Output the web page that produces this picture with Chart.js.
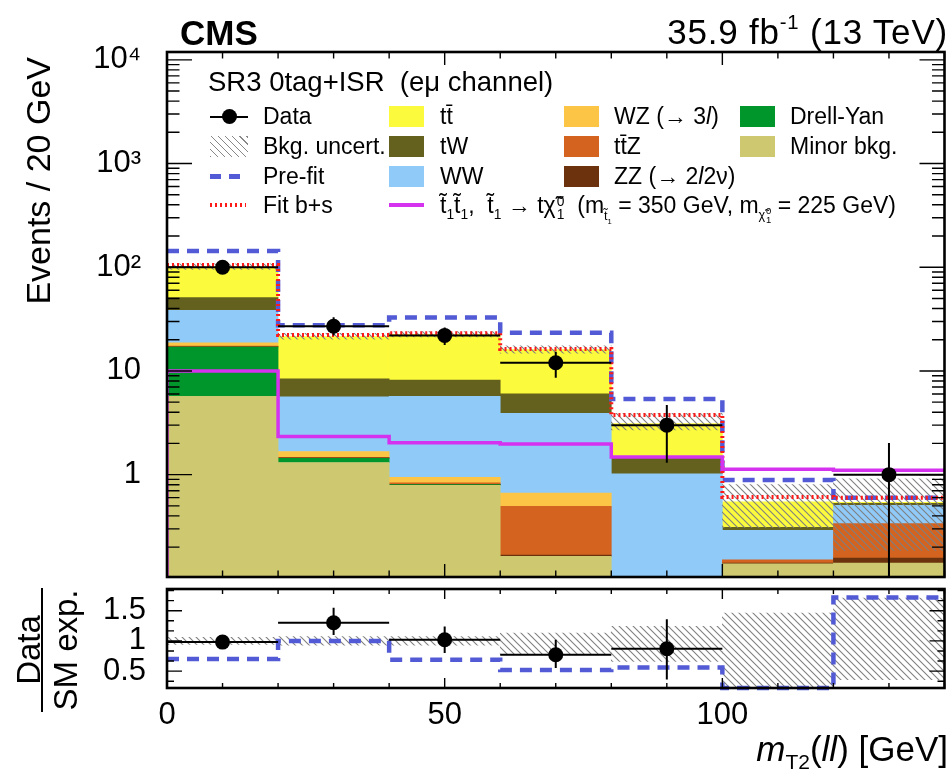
<!DOCTYPE html>
<html>
<head>
<meta charset="utf-8">
<title>mT2(ll) SR3 0tag+ISR</title>
<script src="https://cdn.jsdelivr.net/npm/chart.js@4.4.1/dist/chart.umd.min.js"></script>
<style>
html, body { margin: 0; padding: 0; background: #fff; }
#wrap { position: relative; width: 952px; height: 771px; overflow: hidden;
        font-family: "Liberation Sans", Arial, Helvetica, sans-serif; color: #000; }
#wrap canvas { position: absolute; left: 0; top: 0; }
.t { position: absolute; white-space: pre; line-height: 1; }
.lg { font-size: 23px; }
.sw { position: absolute; }
sub, sup { font-size: 0.6em; line-height: 0; }
.ss { display: inline-block; vertical-align: -0.45em; font-size: 0.6em; line-height: 0.95; margin-left: 0.08em; }
.ss span { display: block; }
.ms { display: inline-block; vertical-align: -0.55em; font-size: 0.55em; line-height: 1; }
.ms .ss { font-size: 0.75em; vertical-align: -0.4em; }
.hatch { background: repeating-linear-gradient(45deg, #888 0 1.1px, transparent 1.1px 5px); }
</style>
</head>
<body>
<div id="wrap">
  <canvas id="mainChart" width="952" height="771"></canvas>
  <canvas id="ratioChart" width="952" height="771"></canvas>

  <div class="t" style="left:180px; top:14.5px; font-size:35px; font-weight:bold;">CMS</div>
  <div class="t" style="right:4px; top:14px; font-size:35px; letter-spacing:0.8px;">35.9 fb<sup style="font-size:0.58em; position:relative; top:-0.1em;">-1</sup> (13 TeV)</div>

  <div class="t" style="left:21px; top:317px; width:260px; text-align:right; font-size:34px; transform-origin:0 0; transform:rotate(-90deg);">Events / 20 GeV</div>
  <div class="t" style="left:12px; top:720px; width:140px; text-align:center; font-size:33px; transform-origin:0 0; transform:rotate(-90deg);">Data</div>
  <div class="sw" style="left:41px; top:588px; width:2px; height:124px; background:#000;"></div>
  <div class="t" style="left:49px; top:720px; width:140px; text-align:center; font-size:33px; transform-origin:0 0; transform:rotate(-90deg);">SM exp.</div>
  <div class="t" style="right:4px; top:730.5px; font-size:35px;"><i>m</i><sub style="font-size:0.6em;">T2</sub>(<i>ll</i>) [GeV]</div>

  <div class="t" style="left:208px; top:68px; font-size:27.5px;">SR3 0tag+ISR  (eμ channel)</div>

  <!-- legend symbols -->
  <div class="sw" style="left:210px; top:115.7px; width:38px; height:2px; background:#000;"></div>
  <div class="sw" style="left:221.5px; top:109.2px; width:15px; height:15px; border-radius:50%; background:#000;"></div>
  <div class="sw hatch" style="left:210px; top:136px; width:38px; height:21px;"></div>
  <div class="sw" style="left:210px; top:174px; width:36px; height:4.5px; background:repeating-linear-gradient(90deg, #525bd5 0 11px, transparent 11px 19px);"></div>
  <div class="sw" style="left:210px; top:203px; width:36px; height:4px; background:repeating-linear-gradient(90deg, #ff1a1a 0 2px, transparent 2px 5px);"></div>

  <div class="sw" style="left:389px; top:106.2px; width:35px; height:21px; background:#fcfa3c;"></div>
  <div class="sw" style="left:389px; top:136.2px; width:35px; height:21px; background:#64611e;"></div>
  <div class="sw" style="left:389px; top:165.5px; width:35px; height:21px; background:#8fcaf9;"></div>
  <div class="sw" style="left:389px; top:203.2px; width:35px; height:3.5px; background:#d532f0;"></div>

  <div class="sw" style="left:564px; top:106.2px; width:35px; height:21px; background:#fcc545;"></div>
  <div class="sw" style="left:564px; top:136.2px; width:35px; height:21px; background:#d3631f;"></div>
  <div class="sw" style="left:564px; top:165.5px; width:35px; height:21px; background:#6b320d;"></div>

  <div class="sw" style="left:740px; top:106.2px; width:35px; height:21px; background:#00962b;"></div>
  <div class="sw" style="left:740px; top:136.2px; width:35px; height:21px; background:#cec970;"></div>

  <!-- legend texts -->
  <div class="t lg" style="left:263px; top:105.4px;">Data</div>
  <div class="t lg" style="left:263px; top:135.4px;">Bkg. uncert.</div>
  <div class="t lg" style="left:263px; top:164.7px;">Pre-fit</div>
  <div class="t lg" style="left:263px; top:193.7px;">Fit b+s</div>

  <div class="t lg" style="left:440px; top:105.4px;">tt&#772;</div>
  <div class="t lg" style="left:440px; top:135.4px;">tW</div>
  <div class="t lg" style="left:440px; top:164.7px;">WW</div>
  <div class="t lg" style="left:440px; top:193.7px;">t&#771;<sub>1</sub>t&#771;<sub>1</sub>,  t&#771;<sub>1</sub> → tχ&#771;<span class="ss"><span>0</span><span>1</span></span>  (m<span class="ms">t&#771;<sub>1</sub></span> = 350 GeV, m<span class="ms">χ&#771;<span class="ss"><span>0</span><span>1</span></span></span> = 225 GeV)</div>

  <div class="t lg" style="left:614px; top:105.4px;">WZ (→ 3<i>l</i>)</div>
  <div class="t lg" style="left:614px; top:135.4px;">tt&#772;Z</div>
  <div class="t lg" style="left:614px; top:164.7px;">ZZ (→ 2<i>l</i>2ν)</div>

  <div class="t lg" style="left:790px; top:105.4px;">Drell-Yan</div>
  <div class="t lg" style="left:790px; top:135.4px;">Minor bkg.</div>
</div>

<script>
// m_T2(ll) binning, 20 GeV bins
const binEdges = [0, 20, 40, 60, 80, 100, 120, 140];
const binCenters = [10, 30, 50, 70, 90, 110, 130];

// post-fit backgrounds (events / 20 GeV), stacked from the bottom up
const minorBkg = [5.7, 1.31, 0.79, 0.163, 0.05, 0.138, 0.14];
const drellYan = [11.3, 0.13, 0.01, 0, 0.01, 0, 0];
const zzBkg = [0.1, 0.01, 0.005, 0.005, 0.005, 0.002, 0.017];
const ttzBkg = [0.3, 0.02, 0.03, 0.326, 0.01, 0.011, 0.18];
const wzBkg = [1.3, 0.2, 0.105, 0.171, 0.01, 0, 0];
const wwBkg = [19.7, 3.96, 4.76, 3.235, 0.935, 0.14, 0.168];
const twBkg = [12.6, 2.77, 2.45, 2.1, 0.44, 0.02, 0.025];
const ttBkg = [50, 13, 14.35, 10.1, 1.64, 0.235, 0.01];

// background uncertainty band (absolute)
const bandLow = [95, 20.3, 21.3, 14.8, 2.7, 0.31, 0.186];
const bandHigh = [108, 23.0, 24.0, 17.5, 3.9, 0.80, 0.91];

// overlaid histograms
const preFit = [143, 27.5, 32.7, 23.4, 5.35, 0.89, 0.60];
const fitBS = [105, 22.2, 23.1, 16.3, 3.76, 0.61, 0.60];
const signal = [10.0, 2.33, 2.03, 1.97, 1.48, 1.125, 1.10];

// observed data with error bar ends
const dataObs = [100, 27, 22, 12, 3, 0, 1];
const dataLow = [90, 22, 17.8, 8.6, 1.3, 0, 0];
const dataHigh = [110, 33, 26.2, 15.3, 4.7, 0, 2.02];

// ratio panel
const ratioData = [0.98, 1.30, 1.02, 0.77, 0.87, null, null];
const ratioLow = [0.89, 1.10, 0.80, 0.55, 0.36, null, null];
const ratioHigh = [1.08, 1.55, 1.24, 1.02, 1.36, null, null];
const ratioPreFit = [0.70, 1.00, 0.69, 0.52, 0.56, 0, 1.72];
const ratioBandLow = [0.94, 0.93, 0.93, 0.78, 0.66, 0, 0.36];
const ratioBandHigh = [1.06, 1.07, 1.07, 1.13, 1.24, 1.46, 1.71];

// axes
const yMin = 0.103, yMax = 11900;
const ratioMin = 0.22, ratioMax = 1.86;
const yMajorTicks = [1, 10, 100, 1000, 10000];
const yMajorLabels = ['1', '10', '10²', '10³', '10⁴'];
const xMajorTicks = [0, 50, 100];
const xMajorLabels = ['0', '50', '100'];
const xMinorTicks = [10, 20, 30, 40, 60, 70, 80, 90, 110, 120, 130, 140];
const ratioMajorTicks = [0.5, 1, 1.5];
const ratioMajorLabels = ['0.5', '1', '1.5'];
const ratioMinorTicks = [0.333, 0.667, 0.833, 1.167, 1.333, 1.667, 1.833];

const stackSeries = [minorBkg, drellYan, zzBkg, ttzBkg, wzBkg, wwBkg, twBkg, ttBkg];
const stackColors = ['#cec970', '#00962b', '#6b320d', '#d3631f', '#fcc545', '#8fcaf9', '#64611e', '#fcfa3c'];

const FONT = '"Liberation Sans", Arial, Helvetica, sans-serif';
Chart.defaults.font.family = FONT;

// y minor ticks for the log axis: 2..9 x 10^n inside the range
const yMinorTicks = [];
for (let e = -1; e <= 3; e++) {
    for (let m = 2; m <= 9; m++) {
        const v = m * Math.pow(10, e);
        if (v > yMin && v < yMax) yMinorTicks.push(v);
    }
}

function makeHatch(canvasId) {
    const tile = document.createElement('canvas');
    const s = 7;
    tile.width = s; tile.height = s;
    const g = tile.getContext('2d');
    g.strokeStyle = '#808080';
    g.lineWidth = 1.1;
    g.beginPath();
    g.moveTo(0, 0); g.lineTo(s, s);
    g.moveTo(-2, s - 2); g.lineTo(2, s + 2);
    g.moveTo(s - 2, -2); g.lineTo(s + 2, 2);
    g.stroke();
    return document.getElementById(canvasId).getContext('2d').createPattern(tile, 'repeat');
}

// histogram outline as step points on the bin edges
function stepPoints(vals) {
    const pts = vals.map((v, i) => ({ x: binEdges[i], y: v }));
    pts.push({ x: binEdges[binEdges.length - 1], y: vals[vals.length - 1] });
    return pts;
}

function isTick(v, t) {
    return Math.abs(v - t) < 1e-6 * Math.max(1, Math.abs(t));
}

// ROOT-like frame with ticks pointing inwards
const rootFrame = {
    id: 'rootFrame',
    afterDraw(chart, args, o) {
        const { ctx, chartArea: a } = chart;
        const xs = chart.scales.x, ys = chart.scales.y;
        ctx.save();
        ctx.strokeStyle = '#000';
        ctx.lineWidth = 1.4;
        ctx.beginPath();
        const xMark = (v, len) => {
            const px = xs.getPixelForValue(v);
            ctx.moveTo(px, a.bottom); ctx.lineTo(px, a.bottom - len);
            ctx.moveTo(px, a.top); ctx.lineTo(px, a.top + len);
        };
        const yMark = (v, len) => {
            const py = ys.getPixelForValue(v);
            ctx.moveTo(a.left, py); ctx.lineTo(a.left + len, py);
            ctx.moveTo(a.right, py); ctx.lineTo(a.right - len, py);
        };
        o.xMajor.forEach(v => xMark(v, o.xMajorLen));
        o.xMinor.forEach(v => xMark(v, o.xMinorLen));
        o.yMajor.forEach(v => yMark(v, o.yMajorLen));
        o.yMinor.forEach(v => yMark(v, o.yMinorLen));
        ctx.stroke();
        ctx.lineWidth = 2.6;
        ctx.strokeRect(a.left, a.top, a.right - a.left, a.bottom - a.top);
        ctx.restore();
    }
};

// vertical (stat) and horizontal (bin width) error bars on data points
const errorBars = {
    id: 'errorBars',
    afterDatasetsDraw(chart) {
        const { ctx, chartArea: a } = chart;
        const xs = chart.scales.x, ys = chart.scales.y;
        chart.data.datasets.forEach(ds => {
            if (!ds.withErrors) return;
            ctx.save();
            ctx.beginPath();
            ctx.rect(a.left, a.top, a.right - a.left, a.bottom - a.top);
            ctx.clip();
            ctx.strokeStyle = '#000';
            ctx.lineWidth = 2;
            ctx.beginPath();
            ds.data.forEach(p => {
                const px = xs.getPixelForValue(p.x);
                const py = ys.getPixelForValue(p.y);
                ctx.moveTo(xs.getPixelForValue(p.x - 10), py);
                ctx.lineTo(xs.getPixelForValue(p.x + 10), py);
                const lo = Math.max(p.lo, ys.min);
                ctx.moveTo(px, ys.getPixelForValue(lo));
                ctx.lineTo(px, ys.getPixelForValue(p.hi));
            });
            ctx.stroke();
            ctx.restore();
        });
    }
};

// ---------------- main panel ----------------
const cum = binCenters.map(() => 0);
const stackDatasets = stackSeries.map((vals, k) => {
    const pts = binCenters.map((x, i) => {
        const lo = Math.max(cum[i], 1e-3);
        const hi = cum[i] + vals[i];
        cum[i] = hi;
        return { x, y: vals[i] > 0 ? [lo, hi] : null };
    });
    return {
        type: 'bar',
        data: pts,
        backgroundColor: stackColors[k],
        borderWidth: 0,
        barPercentage: 1,
        categoryPercentage: 1,
        grouped: false,
        order: 30
    };
});

const mainHatch = makeHatch('mainChart');

const mainDatasets = stackDatasets.concat([
    {
        type: 'bar',
        data: binCenters.map((x, i) => ({ x, y: [bandLow[i], bandHigh[i]] })),
        backgroundColor: mainHatch,
        borderWidth: 0,
        barPercentage: 1,
        categoryPercentage: 1,
        grouped: false,
        order: 20
    },
    {
        type: 'line',
        data: stepPoints(preFit),
        stepped: true,
        borderColor: '#525bd5',
        borderWidth: 4.5,
        borderDash: [12, 8],
        pointRadius: 0,
        fill: false,
        order: 4
    },
    {
        type: 'line',
        data: stepPoints(fitBS),
        stepped: true,
        borderColor: '#ff1a1a',
        borderWidth: 4,
        borderDash: [2, 3],
        pointRadius: 0,
        fill: false,
        order: 3
    },
    {
        type: 'line',
        data: [{ x: 0, y: 1e-3 }].concat(stepPoints(signal)),
        stepped: true,
        borderColor: '#d532f0',
        borderWidth: 3.5,
        pointRadius: 0,
        fill: false,
        order: 2
    },
    {
        type: 'line',
        withErrors: true,
        data: binCenters
            .map((x, i) => ({ x, y: dataObs[i], lo: dataLow[i], hi: dataHigh[i] }))
            .filter(p => p.y > 0),
        showLine: false,
        pointRadius: 7.5,
        pointBackgroundColor: '#000',
        pointBorderWidth: 0,
        order: 0
    }
]);

new Chart(document.getElementById('mainChart'), {
    type: 'bar',
    data: { datasets: mainDatasets },
    options: {
        responsive: false,
        animation: false,
        events: [],
        layout: { padding: { top: 52, right: 4, bottom: 194, left: 0 } },
        plugins: {
            legend: { display: false },
            tooltip: { enabled: false },
            rootFrame: {
                xMajor: xMajorTicks, xMinor: xMinorTicks, xMajorLen: 13, xMinorLen: 6.5,
                yMajor: yMajorTicks, yMinor: yMinorTicks, yMajorLen: 25, yMinorLen: 12.5
            }
        },
        scales: {
            x: {
                type: 'linear',
                min: 0,
                max: 140,
                offset: false,
                display: false,
                afterBuildTicks: s => { s.ticks = binEdges.map(v => ({ value: v })); }
            },
            y: {
                type: 'logarithmic',
                min: yMin,
                max: yMax,
                afterFit: s => { s.width = 167; },
                afterBuildTicks: s => { s.ticks = yMajorTicks.map(v => ({ value: v })); },
                grid: { display: false, drawTicks: false },
                border: { display: false },
                ticks: {
                    autoSkip: false,
                    padding: 26,
                    color: '#000',
                    font: { size: 31, family: FONT },
                    callback: v => {
                        const k = yMajorTicks.findIndex(t => isTick(v, t));
                        return k >= 0 ? yMajorLabels[k] : '';
                    }
                }
            }
        }
    },
    plugins: [errorBars, rootFrame]
});

// ---------------- ratio panel ----------------
const ratioHatch = makeHatch('ratioChart');

new Chart(document.getElementById('ratioChart'), {
    type: 'bar',
    data: {
        datasets: [
            {
                type: 'bar',
                data: binCenters.map((x, i) => ({ x, y: [ratioBandLow[i], ratioBandHigh[i]] })),
                backgroundColor: ratioHatch,
                borderWidth: 0,
                barPercentage: 1,
                categoryPercentage: 1,
                grouped: false,
                order: 20
            },
            {
                type: 'line',
                data: stepPoints(ratioPreFit.map(v => Math.max(v, ratioMin))),
                stepped: true,
                borderColor: '#525bd5',
                borderWidth: 4.5,
                borderDash: [12, 8],
                pointRadius: 0,
                fill: false,
                clip: { left: 0, top: 0, right: 0, bottom: 4 },
                order: 4
            },
            {
                type: 'line',
                withErrors: true,
                data: binCenters
                    .map((x, i) => ({ x, y: ratioData[i], lo: ratioLow[i], hi: ratioHigh[i] }))
                    .filter(p => p.y !== null),
                showLine: false,
                pointRadius: 7.5,
                pointBackgroundColor: '#000',
                pointBorderWidth: 0,
                order: 0
            }
        ]
    },
    options: {
        responsive: false,
        animation: false,
        events: [],
        layout: { padding: { top: 589, right: 4, bottom: 0, left: 0 } },
        plugins: {
            legend: { display: false },
            tooltip: { enabled: false },
            rootFrame: {
                xMajor: xMajorTicks, xMinor: xMinorTicks, xMajorLen: 10, xMinorLen: 5,
                yMajor: ratioMajorTicks, yMinor: ratioMinorTicks, yMajorLen: 15, yMinorLen: 7
            }
        },
        scales: {
            x: {
                type: 'linear',
                min: 0,
                max: 140,
                offset: false,
                afterFit: s => { s.height = 83; },
                afterBuildTicks: s => { s.ticks = xMajorTicks.map(v => ({ value: v })); },
                grid: { display: false, drawTicks: false },
                border: { display: false },
                ticks: {
                    autoSkip: false,
                    maxRotation: 0,
                    padding: 9,
                    color: '#000',
                    font: { size: 31, family: FONT },
                    callback: v => {
                        const k = xMajorTicks.findIndex(t => isTick(v, t));
                        return k >= 0 ? xMajorLabels[k] : '';
                    }
                }
            },
            y: {
                type: 'linear',
                min: ratioMin,
                max: ratioMax,
                afterFit: s => { s.width = 167; },
                afterBuildTicks: s => { s.ticks = ratioMajorTicks.map(v => ({ value: v })); },
                grid: { display: false, drawTicks: false },
                border: { display: false },
                ticks: {
                    autoSkip: false,
                    padding: 21,
                    color: '#000',
                    font: { size: 31, family: FONT },
                    callback: v => {
                        const k = ratioMajorTicks.findIndex(t => isTick(v, t));
                        return k >= 0 ? ratioMajorLabels[k] : '';
                    }
                }
            }
        }
    },
    plugins: [errorBars, rootFrame]
});
</script>
</body>
</html>
